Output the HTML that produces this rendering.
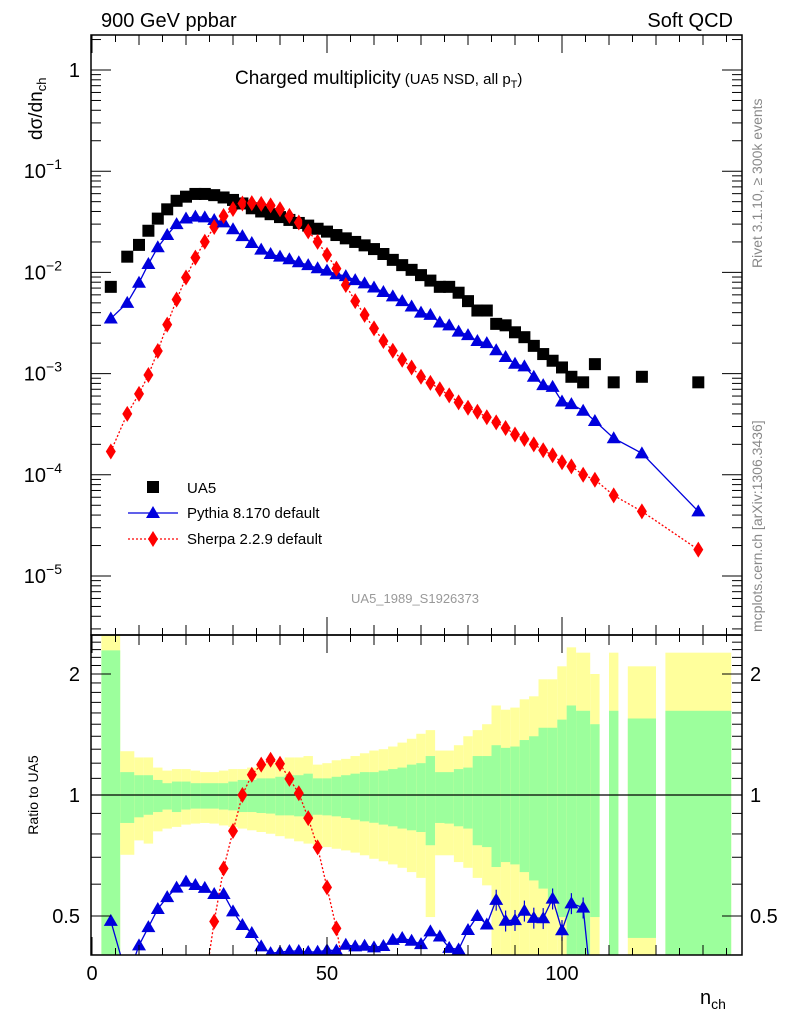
<!DOCTYPE html>
<html><head><meta charset="utf-8"><style>
html,body{margin:0;padding:0;background:#fff;width:786px;height:1024px;overflow:hidden;}
svg{display:block;font-family:"Liberation Sans",sans-serif;}
</style></head><body>
<svg id="chart" width="786" height="1024" viewBox="0 0 786 1024" xmlns="http://www.w3.org/2000/svg">
<g id="bands"></g>
<g id="marks"></g>
<g id="axes"></g>
<text x="101" y="27" font-size="20">900 GeV ppbar</text>
<text x="733" y="27" font-size="20" text-anchor="end">Soft QCD</text>
<text x="235" y="84" font-size="19">Charged multiplicity<tspan font-size="15" dx="4">(UA5 NSD, all p</tspan><tspan font-size="11" dy="4">T</tspan><tspan font-size="15" dy="-4">)</tspan></text>
<text transform="translate(42,140) rotate(-90)" font-size="19">dσ/dn<tspan font-size="13" dy="4">ch</tspan></text>
<text transform="translate(38,795) rotate(-90)" font-size="14" text-anchor="middle">Ratio to UA5</text>
<text x="700" y="1004" font-size="20">n<tspan font-size="14" dy="5">ch</tspan></text>
<text transform="translate(762,268) rotate(-90)" font-size="14" fill="#888">Rivet 3.1.10, ≥ 300k events</text>
<text transform="translate(762,632) rotate(-90)" font-size="14" fill="#888">mcplots.cern.ch [arXiv:1306.3436]</text>
<text x="415" y="603" font-size="13" fill="#999" text-anchor="middle">UA5_1989_S1926373</text>
<g>
  <rect x="147" y="481" width="12" height="12" fill="#000"/>
  <text x="187" y="493" font-size="15">UA5</text>
  <line x1="128" y1="513" x2="178" y2="513" stroke="#0000dd" stroke-width="1.3"/>
  <polygon points="153,506 160,518 146,518" fill="#0000dd"/>
  <text x="187" y="518" font-size="15">Pythia 8.170 default</text>
  <line x1="128" y1="539" x2="178" y2="539" stroke="#f00" stroke-width="1.3" stroke-dasharray="2,2"/>
  <polygon points="153,531 158,539 153,547 148,539" fill="#f00"/>
  <text x="187" y="544" font-size="15">Sherpa 2.2.9 default</text>
</g>
</svg>
<script>
const nch = [4,7.5,10,12,14,16,18,20,22,24,26,28,30,32,34,36,38,40,42,44,46,48,50,52,54,56,58,60,62,64,66,68,70,72,74,76,78,80,82,84,86,88,90,92,94,96,98,100,102,104.5,107,111,117,129];
const binLo = [2,6,9,11,13,15,17,19,21,23,25,27,29,31,33,35,37,39,41,43,45,47,49,51,53,55,57,59,61,63,65,67,69,71,73,75,77,79,81,83,85,87,89,91,93,95,97,99,101,103,106,110,114,122];
const binHi = [6,9,11,13,15,17,19,21,23,25,27,29,31,33,35,37,39,41,43,45,47,49,51,53,55,57,59,61,63,65,67,69,71,73,75,77,79,81,83,85,87,89,91,93,95,97,99,101,103,106,108,112,120,136];
const ua5 = [0.0072,0.0143,0.0187,0.0258,0.034,0.042,0.051,0.056,0.0596,0.0596,0.058,0.055,0.052,0.048,0.0430,0.0400,0.0376,0.0352,0.0330,0.0308,0.0290,0.0270,0.0253,0.0234,0.0217,0.0200,0.0185,0.0170,0.0152,0.0133,0.0118,0.0106,0.0094,0.0083,0.0072,0.0072,0.0063,0.0052,0.0042,0.0042,0.0031,0.0030,0.00256,0.00229,0.00188,0.00156,0.00134,0.00115,0.00093,0.00082,0.00124,0.00082,0.00093,0.00082];
const pythia = [0.0035,0.0050,0.0079,0.0121,0.0177,0.0234,0.030,0.0341,0.0356,0.035,0.0329,0.0312,0.0267,0.0228,0.0195,0.0168,0.0152,0.0143,0.0135,0.0126,0.0118,0.0110,0.0104,0.0096,0.0092,0.0084,0.0078,0.0071,0.0064,0.0058,0.0052,0.0046,0.0040,0.0038,0.0032,0.0030,0.0026,0.0024,0.0021,0.0020,0.0017,0.00146,0.00125,0.00118,0.00093,0.00077,0.00074,0.00053,0.00050,0.00043,0.00034,0.00023,0.000163,0.0000435];
const sherpa = [0.00017,0.0004,0.00063,0.00097,0.00167,0.00305,0.0054,0.0089,0.014,0.0201,0.0281,0.0361,0.0423,0.048,0.0483,0.0476,0.046,0.0421,0.0362,0.0311,0.0254,0.0200,0.0149,0.0109,0.0075,0.0052,0.0038,0.0028,0.0021,0.00168,0.00137,0.00115,0.00093,0.00081,0.00070,0.00061,0.00052,0.00046,0.00042,0.00037,0.00033,0.00029,0.00025,0.000226,0.0002,0.000175,0.000156,0.000133,0.000121,0.0001,0.0000893,0.0000626,0.0000435,0.0000182];
const bandYU = [3,1.285,1.24,1.24,1.17,1.15,1.16,1.16,1.15,1.14,1.14,1.15,1.16,1.16,1.17,1.19,1.20,1.22,1.24,1.24,1.25,1.19,1.20,1.22,1.23,1.25,1.27,1.29,1.30,1.32,1.35,1.38,1.42,1.45,1.29,1.29,1.33,1.40,1.45,1.50,1.67,1.63,1.65,1.73,1.76,1.94,1.94,2.09,2.33,2.26,2.0,2.26,2.09,2.26];
const bandGU = [2.29,1.14,1.12,1.12,1.09,1.07,1.08,1.08,1.07,1.07,1.07,1.07,1.08,1.09,1.09,1.10,1.10,1.11,1.12,1.12,1.13,1.10,1.10,1.11,1.12,1.13,1.14,1.14,1.15,1.16,1.17,1.19,1.20,1.25,1.14,1.14,1.16,1.17,1.25,1.25,1.33,1.31,1.32,1.37,1.40,1.47,1.47,1.54,1.67,1.62,1.50,1.62,1.55,1.62];
const bandGL = [0.3,0.852,0.88,0.893,0.907,0.92,0.907,0.92,0.925,0.925,0.925,0.92,0.916,0.907,0.907,0.902,0.899,0.89,0.89,0.885,0.873,0.893,0.89,0.885,0.877,0.868,0.86,0.853,0.844,0.836,0.825,0.817,0.809,0.75,0.852,0.849,0.836,0.825,0.75,0.742,0.662,0.681,0.672,0.643,0.613,0.585,0.552,0.497,0.3,0.3,0.497,0.3,0.441,0.3];
const bandYL = [0.3,0.71,0.771,0.757,0.812,0.825,0.833,0.844,0.849,0.852,0.849,0.84,0.833,0.825,0.817,0.809,0.801,0.79,0.779,0.767,0.757,0.75,0.742,0.735,0.728,0.719,0.708,0.694,0.684,0.672,0.659,0.643,0.622,0.497,0.708,0.708,0.681,0.659,0.622,0.596,0.3,0.3,0.3,0.3,0.3,0.3,0.3,0.3,0.3,0.3,0.3,0.3,0.3,0.3];
const xTicks = [0,50,100];
const yTickExp = [0,-1,-2,-3,-4,-5];
const rTicks = [0.5,1,2];

const NS='http://www.w3.org/2000/svg';
const L=91,R=742,T=35,MID=635,B=955;
const xs=n=>L+4.7*n+1;
const ys=v=>70-101.2*Math.log10(v);
const rs=r=>795-121*Math.log2(r);
function mk(tag,attrs,parent){const e=document.createElementNS(NS,tag);for(const k in attrs)e.setAttribute(k,attrs[k]);parent.appendChild(e);return e;}
const gBands=document.getElementById('bands'),gMarks=document.getElementById('marks'),gAxes=document.getElementById('axes');
const rMax=2**((795-MID)/121), rMin=2**((795-B)/121);
const cl=r=>Math.max(rMin,Math.min(rMax,r));

for(let i=0;i<nch.length;i++){
  const x1=xs(binLo[i]),x2=xs(binHi[i]);
  const y=mk('rect',{x:x1,y:rs(cl(bandYU[i])),width:x2-x1,height:rs(cl(bandYL[i]))-rs(cl(bandYU[i])),fill:'#ffff9c'},gBands);
  
  
  const g=mk('rect',{x:x1,y:rs(cl(bandGU[i])),width:x2-x1,height:rs(cl(bandGL[i]))-rs(cl(bandGU[i])),fill:'#9cff9c'},gBands);
  
  
}
mk('line',{x1:L,y1:795,x2:R,y2:795,stroke:'#000','stroke-width':1.3},gBands);

const defs=mk('defs',{},gMarks);
const c1=mk('clipPath',{id:'ctop'},defs);mk('rect',{x:L,y:T,width:R-L,height:MID-T},c1);
const c2=mk('clipPath',{id:'cbot'},defs);mk('rect',{x:L,y:MID,width:R-L,height:B-MID},c2);
const gTop=mk('g',{'clip-path':'url(#ctop)'},gMarks);
const gBot=mk('g',{'clip-path':'url(#cbot)'},gMarks);

function tri(x,y,p,col,name){const e=mk('polygon',{points:`${x},${y-7} ${x+7},${y+5} ${x-7},${y+5}`,fill:col},p);
  
  }
function dia(x,y,p,name){const e=mk('polygon',{points:`${x},${y-8} ${x+5},${y} ${x},${y+8} ${x-5},${y}`,fill:'#f00'},p);
  
  }

mk('polyline',{points:nch.map((n,i)=>xs(n)+','+ys(pythia[i])).join(' '),fill:'none',stroke:'#0000dd','stroke-width':1.3},gTop);
mk('polyline',{points:nch.map((n,i)=>xs(n)+','+ys(sherpa[i])).join(' '),fill:'none',stroke:'#f00','stroke-width':1.3,'stroke-dasharray':'2,2'},gTop);
for(let i=0;i<nch.length;i++){
  const s=mk('rect',{x:xs(nch[i])-6,y:ys(ua5[i])-6,width:12,height:12,fill:'#000'},gTop);
  
  
  tri(xs(nch[i]),ys(pythia[i]),gTop,'#0000dd','pythia-point');
  dia(xs(nch[i]),ys(sherpa[i]),gTop,'sherpa-point');
}
const rp=nch.map((n,i)=>pythia[i]/ua5[i]), rsh=nch.map((n,i)=>sherpa[i]/ua5[i]);
mk('polyline',{points:nch.map((n,i)=>xs(n)+','+rs(rp[i])).join(' '),fill:'none',stroke:'#0000dd','stroke-width':1.3},gBot);
mk('polyline',{points:nch.map((n,i)=>xs(n)+','+rs(rsh[i])).join(' '),fill:'none',stroke:'#f00','stroke-width':1.3,'stroke-dasharray':'2,2'},gBot);
for(let i=0;i<nch.length;i++){
  if(nch[i]>84&&nch[i]<106){const e=0.06*rp[i];mk('line',{x1:xs(nch[i]),x2:xs(nch[i]),y1:rs(rp[i]+e),y2:rs(rp[i]-e),stroke:'#0000dd','stroke-width':1.2},gBot);}
  tri(xs(nch[i]),rs(rp[i]),gBot,'#0000dd','pythia-ratio-point');
  dia(xs(nch[i]),rs(rsh[i]),gBot,'sherpa-ratio-point');
}

mk('rect',{x:L,y:T,width:R-L,height:MID-T,fill:'none',stroke:'#000','stroke-width':1.5},gAxes);
mk('rect',{x:L,y:MID,width:R-L,height:B-MID,fill:'none',stroke:'#000','stroke-width':1.5},gAxes);
for(let n=0;n<=135;n+=5){
  const len=n%50===0?18:(n%10===0?10:7);const x=xs(n);
  [[T,1],[MID,1],[B,-1]].forEach(([y,d])=>mk('line',{x1:x,x2:x,y1:y,y2:y+d*len,stroke:'#000'},gAxes));
  if(n>0) mk('line',{x1:x,x2:x,y1:MID,y2:MID-len,stroke:'#000'},gAxes);
}
xTicks.forEach(n=>{const t=mk('text',{x:xs(n),y:980,'font-size':20,'text-anchor':'middle'},gAxes);t.textContent=n;
  
  });
for(let e=1;e>=-6;e--){for(let m=1;m<10;m++){const v=m*10**(e-1);const y=ys(v);if(y<T||y>MID)continue;
  const len=m===1?20:10;
  mk('line',{x1:L,x2:L+len,y1:y,y2:y,stroke:'#000'},gAxes);mk('line',{x1:R,x2:R-len,y1:y,y2:y,stroke:'#000'},gAxes);}}
yTickExp.forEach(e=>{const y=ys(10**e);const t=mk('text',{x:80,y:y+7,'font-size':20,'text-anchor':'end'},gAxes);
  
  
  if(e===0){t.textContent='1';}else{t.setAttribute('x',62);t.textContent='10';const s=mk('tspan',{'font-size':14,dy:-9},t);s.textContent='−'+(-e);}});
for(let k=4;k<=25;k++){const r=k/10;const y=rs(r);if(y<MID||y>B)continue;
  const len=(k===5||k===10||k===20)?20:10;
  mk('line',{x1:L,x2:L+len,y1:y,y2:y,stroke:'#000'},gAxes);mk('line',{x1:R,x2:R-len,y1:y,y2:y,stroke:'#000'},gAxes);}
rTicks.forEach(r=>{[80,750].forEach(x=>{const t=mk('text',{x:x,y:rs(r)+7,'font-size':20,'text-anchor':x<100?'end':'start'},gAxes);t.textContent=r;
  
  });});
</script>
</body></html>
